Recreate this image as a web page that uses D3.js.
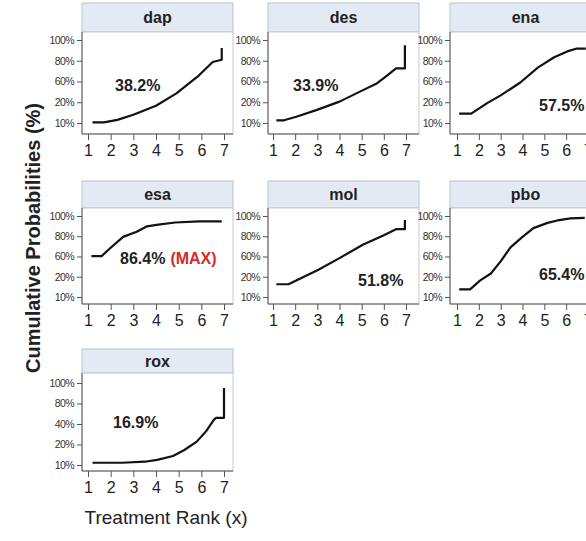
<!DOCTYPE html>
<html>
<head>
<meta charset="utf-8">
<script src="https://cdn.jsdelivr.net/npm/d3@7"></script>
<style>
  body { margin: 0; background: #fff; }
  svg { display: block; font-family: "Liberation Sans", Arial, sans-serif; }
  .y.axis text { font-size: 10.5px; fill: #333; letter-spacing: -0.6px; }
  .x.axis text { font-size: 16px; fill: #222; }
  .axis path, .axis line { stroke: #555; }
</style>
</head>
<body>
<div id="chart"></div>
<script>
// treatments (panel order) and SUCRA labels
var treatments = ["dap", "des", "ena", "esa", "mol", "pbo", "rox"];
var sucra = ["38.2%", "33.9%", "57.5%", "86.4%", "51.8%", "65.4%", "16.9%"];

// x axis ticks (rank)
var rankTicks = [1, 2, 3, 4, 5, 6, 7];

// y axis tick values / labels (evenly spaced on the original)
var yTickValues = [10, 20, 60, 80, 100];
var yTickLabels = ["10%", "20%", "60%", "80%", "100%"];
var yTickValuesRox = [10, 20, 40, 80, 100];
var yTickLabelsRox = ["10%", "20%", "40%", "80%", "100%"];

// cumulative probability curves: [rank, percent]
var dap = [[1.2, 10.3], [1.7, 10.3], [2.3, 11.5], [3.0, 14], [4.0, 18.3], [4.9, 37], [5.9, 66], [6.5, 78.8], [6.9, 81], [6.9, 92.4]];
var des = [[1.15, 11.3], [1.5, 11.3], [2.05, 13], [2.95, 16.2], [4.0, 21.2], [4.9, 40], [5.7, 56.8], [6.1, 65], [6.55, 72.6], [6.95, 72.6], [6.95, 95]];
var ena = [[1.1, 14.5], [1.65, 14.5], [2.4, 19.7], [3.0, 33.2], [3.9, 58], [4.7, 73.4], [5.45, 83.4], [6.05, 89], [6.45, 91.6], [6.9, 91.6]];
var esa = [[1.15, 60.4], [1.6, 60.4], [2.0, 68.6], [2.55, 79.4], [3.15, 84.4], [3.6, 89.8], [4.1, 91.4], [4.85, 93.6], [5.9, 94.6], [6.9, 94.6]];
var mol = [[1.15, 16.3], [1.7, 16.3], [2.35, 19.7], [3.05, 34], [4.0, 56.8], [5.05, 71.6], [6.0, 81], [6.55, 87], [6.95, 87], [6.95, 96]];
var pbo = [[1.1, 13.8], [1.6, 13.8], [2.05, 18.1], [2.55, 26.4], [3.0, 50.4], [3.45, 69], [4.0, 79.4], [4.5, 88], [5.15, 93.2], [5.6, 95.6], [6.2, 97.6], [6.85, 98.2]];
var rox = [[1.2, 11.1], [2.5, 11.1], [3.5, 11.6], [4.05, 12.5], [4.75, 14.4], [5.25, 17.3], [5.8, 22.8], [6.2, 32.6], [6.55, 48], [6.65, 52], [7.0, 52], [7.0, 95.2]];

var curves = {dap: dap, des: des, ena: ena, esa: esa, mol: mol, pbo: pbo, rox: rox};

var width = 586, height = 541;

// panel layout
var colLeft = [82, 268, 450], panelW = 151;
var colRank1 = [88, 273, 457], colRank7 = [224, 406, 588];
var rowStripTop = [3, 181, 349],
    rowStripBottom = [32, 208, 373],
    rowPlotBottom = [134, 304, 471],
    rowYTop = [40, 216, 383],
    rowYBottom = [123, 297, 465];

// annotation offsets inside each panel (x from plot left, y from strip bottom)
var labelPos = {
  dap: [33, 59], des: [25, 59], ena: [89, 79],
  esa: [38, 56], mol: [90, 78], pbo: [89, 72], rox: [31, 55]
};

var svg = d3.select("#chart")
  .append("svg")
  .attr("width", width)
  .attr("height", height);

treatments.forEach(function(name, i) {
  var col = i % 3, row = Math.floor(i / 3);
  var left = colLeft[col],
      stripTop = rowStripTop[row],
      top = rowStripBottom[row],
      bottom = rowPlotBottom[row];

  var tv = name === "rox" ? yTickValuesRox : yTickValues;
  var tl = name === "rox" ? yTickLabelsRox : yTickLabels;

  var x = d3.scaleLinear().domain([1, 7]).range([colRank1[col], colRank7[col]]);
  var y = d3.scaleLinear()
    .domain(tv)
    .range(tv.map(function(d, k) {
      return rowYBottom[row] - k * (rowYBottom[row] - rowYTop[row]) / (tv.length - 1);
    }));

  var g = svg.append("g").attr("class", "panel " + name);

  // strip
  g.append("rect")
    .attr("x", left).attr("y", stripTop)
    .attr("width", panelW).attr("height", top - stripTop)
    .attr("fill", "#e3eaf3")
    .attr("stroke", "#b5c3d2");
  g.append("text")
    .attr("x", left + panelW / 2)
    .attr("y", (stripTop + top) / 2 + 5.5)
    .attr("text-anchor", "middle")
    .style("font-size", "16px").style("font-weight", "bold").style("fill", "#222")
    .text(name);

  // plot area
  g.append("rect")
    .attr("x", left).attr("y", top)
    .attr("width", panelW).attr("height", bottom - top)
    .attr("fill", "#fff")
    .attr("stroke", "#c9c9c9");

  // y axis
  var yAxis = d3.axisLeft(y).tickValues(tv)
    .tickFormat(function(d, k) { return tl[k]; })
    .tickSize(5).tickPadding(3).tickSizeOuter(0);
  var ya = g.append("g")
    .attr("class", "y axis")
    .attr("transform", "translate(" + left + ",0)")
    .call(yAxis);
  ya.select(".domain").attr("d", "M0," + top + "V" + bottom);

  // x axis
  var xAxis = d3.axisBottom(x).tickValues(rankTicks)
    .tickFormat(d3.format("d"))
    .tickSize(6).tickPadding(5).tickSizeOuter(0);
  var xa = g.append("g")
    .attr("class", "x axis")
    .attr("transform", "translate(0," + bottom + ")")
    .call(xAxis);
  xa.select(".domain").attr("d", "M" + left + ",0H" + (left + panelW));

  // curve
  var line = d3.line()
    .x(function(d) { return x(d[0]); })
    .y(function(d) { return y(d[1]); });
  g.append("path")
    .datum(curves[name])
    .attr("d", line)
    .attr("fill", "none")
    .attr("stroke", "#111")
    .attr("stroke-width", 2.2)
    .attr("stroke-linejoin", "round");

  // SUCRA label
  var lab = g.append("text")
    .attr("x", left + labelPos[name][0])
    .attr("y", top + labelPos[name][1])
    .style("font-size", "16px").style("font-weight", "bold").style("fill", "#222");
  lab.append("tspan").text(sucra[i]);
  if (name === "esa") {
    lab.append("tspan").attr("dx", 5).style("fill", "#d42a2a").text("(MAX)");
  }
});

// axis titles
svg.append("text")
  .attr("transform", "translate(40,238) rotate(-90)")
  .attr("text-anchor", "middle")
  .style("font-size", "20px").style("font-weight", "bold").style("fill", "#222")
  .text("Cumulative Probabilities (%)");

svg.append("text")
  .attr("x", 166).attr("y", 524)
  .attr("text-anchor", "middle")
  .style("font-size", "19px").style("fill", "#222")
  .text("Treatment Rank (x)");
</script>
</body>
</html>
